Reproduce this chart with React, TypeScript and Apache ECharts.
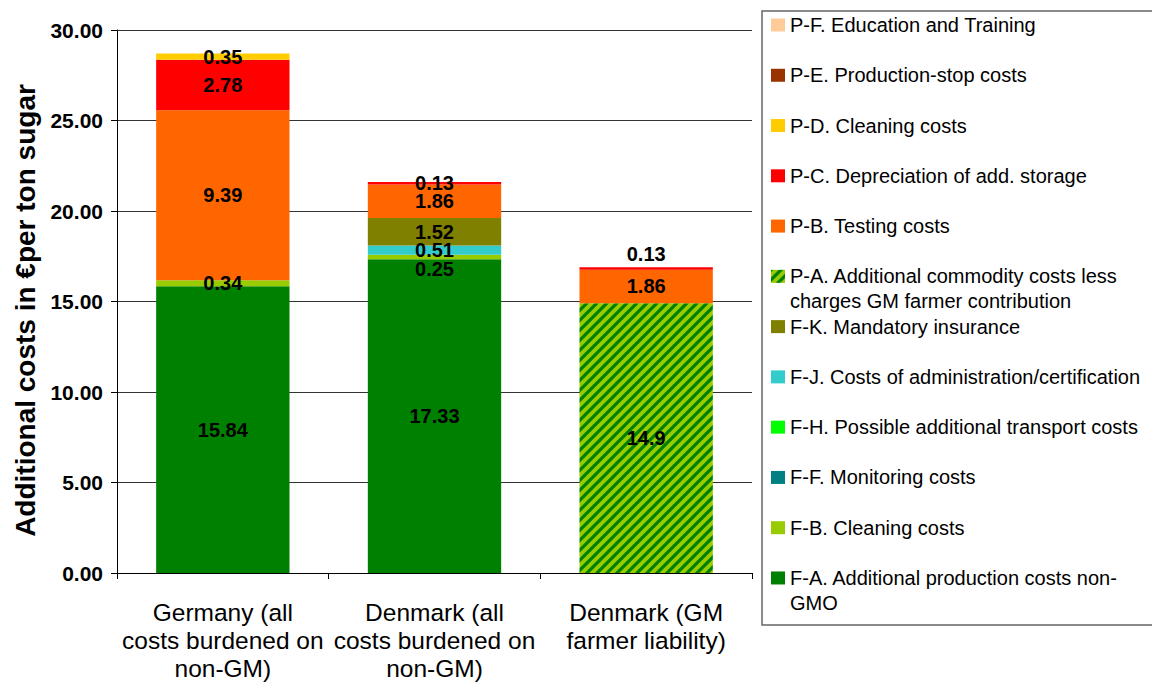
import React, { useEffect, useRef } from 'react';
import * as echarts from 'echarts';

const categories = [
  'Germany (all\ncosts burdened on\nnon-GM)',
  'Denmark (all\ncosts burdened on\nnon-GM)',
  'Denmark (GM\nfarmer liability)',
];

// stacked bottom -> top
const seriesNames = [
  'F-A. Additional production costs non-\nGMO',
  'F-B. Cleaning costs',
  'F-F. Monitoring costs',
  'F-H. Possible additional transport costs',
  'F-J. Costs of administration/certification',
  'F-K. Mandatory insurance',
  'P-A. Additional commodity costs less\ncharges GM farmer contribution',
  'P-B. Testing costs',
  'P-C. Depreciation of add. storage',
  'P-D. Cleaning costs',
  'P-E. Production-stop costs',
  'P-F. Education and Training',
];

const FA = [15.84, 17.33, null];
const FB = [0.34, 0.25, null];
const FF = [null, null, null];
const FH = [null, null, null];
const FJ = [null, 0.51, null];
const FK = [null, 1.52, null];
const PA = [null, null, 14.9];
const PB = [9.39, 1.86, 1.86];
const PC = [2.78, 0.13, 0.13];
const PD = [0.35, null, null];
const PE = [null, null, null];
const PF = [null, null, null];

const seriesValues = [FA, FB, FF, FH, FJ, FK, PA, PB, PC, PD, PE, PF];

const seriesColors = [
  '#008000', '#99CC00', '#008080', '#00FF00', '#33CCCC', '#808000',
  'HATCH', '#FF6600', '#FF0000', '#FFCC00', '#993300', '#FFCC99',
];

const FONT = '"Liberation Sans", Arial, sans-serif';

// legend layout
const LEGEND_LEFT = 771;
const LEGEND_TOP = 12.5;
const LEGEND_ROW = 25;
const LEGEND_GAP = 25.27;

export default function App() {
  const ref = useRef<HTMLDivElement>(null);
  useEffect(() => {
    if (!ref.current) return;
    const tile = document.createElement('canvas');
    tile.width = 10;
    tile.height = 10;
    const ctx = tile.getContext('2d')!;
    ctx.fillStyle = '#99CC00';
    ctx.fillRect(0, 0, 10, 10);
    ctx.strokeStyle = '#008000';
    ctx.lineWidth = 3.2;
    ctx.beginPath();
    ctx.moveTo(-5, 5); ctx.lineTo(5, -5);
    ctx.moveTo(-1, 11); ctx.lineTo(11, -1);
    ctx.moveTo(5, 15); ctx.lineTo(15, 5);
    ctx.stroke();
    const hatch = { image: tile.toDataURL(), repeat: 'repeat', imageWidth: 10, imageHeight: 10 };

    const chart = echarts.init(ref.current, null, { renderer: 'svg' });
    const series = seriesNames.map((name, si) => ({
      name,
      type: 'bar',
      stack: 'total',
      barWidth: '63%',
      itemStyle: { color: seriesColors[si] === 'HATCH' ? hatch : seriesColors[si] },
      label: {
        show: true,
        position: 'inside',
        color: '#000',
        fontFamily: FONT,
        fontWeight: 'bold',
        fontSize: 20,
        formatter: (p: any) => (p.value == null ? '' : String(p.value)),
      },
      data: seriesValues[si].map((v, ci) => {
        if (name.startsWith('P-C') && ci === 2) {
          return { value: v, label: { position: 'top', distance: 3 } };
        }
        if (name.startsWith('F-B') && ci === 1) {
          return { value: v, label: { offset: [0, 12] } };
        }
        return v;
      }),
    }));

    const legendOrder = [...seriesNames].reverse();
    const secondLines: any[] = [];
    legendOrder.forEach((n, i) => {
      const parts = n.split('\n');
      if (parts.length > 1) {
        const cy = LEGEND_TOP + LEGEND_ROW / 2 + i * (LEGEND_ROW + LEGEND_GAP);
        secondLines.push({
          type: 'text',
          silent: true,
          style: {
            text: parts.slice(1).join('\n'),
            x: LEGEND_LEFT + 19,
            y: cy + LEGEND_ROW,
            fill: '#000',
            fontSize: 20,
            fontFamily: FONT,
            verticalAlign: 'middle',
            align: 'left',
          },
        });
      }
    });

    chart.setOption({
      animation: false,
      textStyle: { fontFamily: FONT },
      grid: { left: 117, right: 400, top: 30, bottom: 109 },
      xAxis: {
        type: 'category',
        data: categories,
        axisLine: { lineStyle: { color: '#000', width: 1 } },
        axisTick: { show: true, length: 6, lineStyle: { color: '#000' } },
        axisLabel: {
          interval: 0,
          color: '#000',
          fontSize: 24.5,
          lineHeight: 28,
          margin: 25,
          fontFamily: FONT,
        },
      },
      yAxis: {
        type: 'value',
        min: 0,
        max: 30,
        interval: 5,
        name: 'Additional costs in €per ton sugar',
        nameLocation: 'middle',
        nameGap: 73,
        nameTextStyle: {
          color: '#000',
          fontSize: 28,
          fontWeight: 'bold',
          fontFamily: FONT,
          padding: [0, 18, 0, 0],
        },
        axisLine: { show: true, lineStyle: { color: '#000', width: 1 } },
        axisTick: { show: true, length: 6, lineStyle: { color: '#000' } },
        axisLabel: {
          color: '#000',
          fontSize: 21,
          fontWeight: 'bold',
          margin: 14,
          fontFamily: FONT,
          formatter: (v: number) => v.toFixed(2),
        },
        splitLine: { show: true, lineStyle: { color: '#333', width: 1 } },
      },
      legend: {
        orient: 'vertical',
        left: LEGEND_LEFT,
        top: LEGEND_TOP,
        padding: 0,
        itemWidth: 14,
        itemHeight: 13,
        itemGap: LEGEND_GAP,
        selectedMode: false,
        icon: 'rect',
        data: legendOrder,
        formatter: (n: string) => n.split('\n')[0],
        textStyle: {
          color: '#000',
          fontSize: 20,
          lineHeight: LEGEND_ROW,
          fontFamily: FONT,
        },
      },
      graphic: [
        {
          type: 'rect',
          silent: true,
          shape: { x: 762, y: 11, width: 420, height: 614 },
          style: { fill: 'none', stroke: '#666', lineWidth: 1.5 },
        },
        ...secondLines,
      ],
      series,
    });
    return () => chart.dispose();
  }, []);
  return (
    <div
      ref={ref}
      style={{ position: 'fixed', left: 0, top: 0, width: 1152, height: 682, background: '#fff' }}
    />
  );
}
